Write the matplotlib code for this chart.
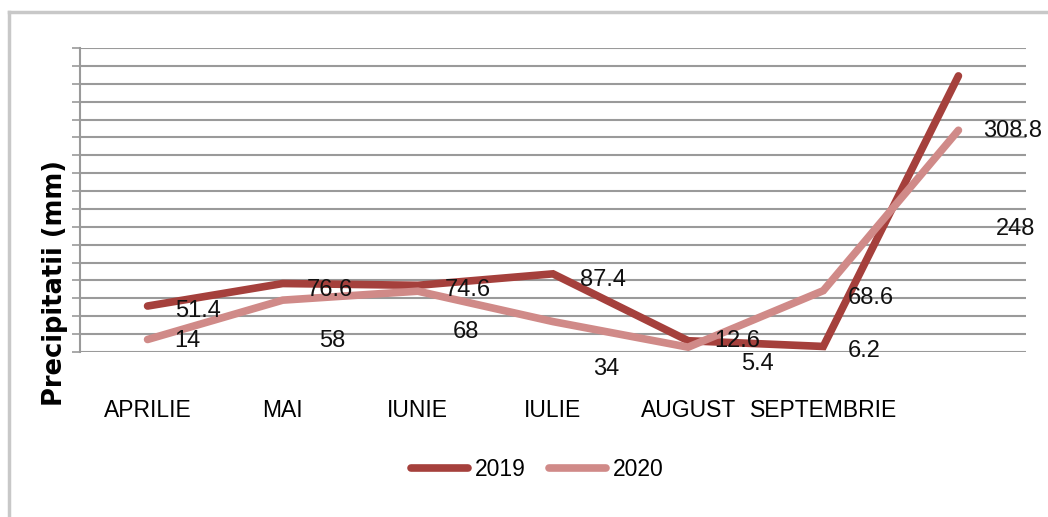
import matplotlib
matplotlib.use("Agg")
import matplotlib.pyplot as plt
from matplotlib.lines import Line2D

# ---- data ----
months = ["APRILIE", "MAI", "IUNIE", "IULIE", "AUGUST", "SEPTEMBRIE", ""]
series_names = ["2019", "2020"]
vals_2019 = [51.4, 76.6, 74.6, 87.4, 12.6, 6.2, 308.8]
vals_2020 = [14, 58, 68, 34, 5.4, 68.6, 248]
y_label = "Precipitatii (mm)"

# ---- style ----
FONT = ["Liberation Sans Narrow", "Liberation Sans", "DejaVu Sans"]
plt.rcParams["font.family"] = FONT
c2019 = "#A5403C"
c2020 = "#D08A88"
# label offsets in pixels (dx right, dy down) – visual placement only
off_2019 = [(50, 5), (47, 6), (50, 5), (50, 6), (49, 0), (41, 5), (54, 55)]
off_2020 = [(40, 2), (50, 41), (48, 41), (53, 47), (69, 17), (48, 7), (57, 99)]

W, H = 1048, 517
fig = plt.figure(figsize=(W / 100, H / 100), dpi=100)
ax = fig.add_axes([80 / W, 1 - 352 / H, (1026 - 80) / W, (352 - 48) / H])

x = list(range(len(months)))
for vals, col, name in [(vals_2019, c2019, "2019"), (vals_2020, c2020, "2020")]:
    ax.plot(x, vals, color=col, lw=5.5, solid_capstyle="round",
            solid_joinstyle="miter", label=name, zorder=3)

px = 0.72
for vals, offs in [(vals_2019, off_2019), (vals_2020, off_2020)]:
    for xi, v, (dx, dy) in zip(x, vals, offs):
        txt = f"{v:g}"
        ax.annotate(txt, (xi, v), xytext=(dx * px, -dy * px), textcoords="offset points",
                    ha="center", va="center", fontsize=17, color="#111111",
                    annotation_clip=False, zorder=4)

ax.set_xlim(-0.5, len(months) - 0.5)
ax.set_ylim(0, 340)
ax.set_yticks(range(0, 341, 20))
ax.set_yticklabels([])
ax.yaxis.grid(True, color="#9a9a9a", lw=1.5)
ax.set_axisbelow(True)
ax.tick_params(axis="y", length=6, color="#9a9a9a", width=1.2)
ax.set_xticks(x)
ax.set_xticklabels(months, fontsize=16.5)
ax.tick_params(axis="x", length=0, pad=34)
for s in ["top", "right", "bottom"]:
    ax.spines[s].set_visible(False)
ax.spines["left"].set_color("#9a9a9a")
ax.spines["left"].set_linewidth(1.5)

fig.text(55 / W, 1 - 283 / H, y_label, rotation=90, ha="center", va="center",
         fontsize=18.5, fontweight="bold", family=["DejaVu Sans"])

handles = [Line2D([0], [0], color=c2019, lw=5.5, solid_capstyle="round"),
           Line2D([0], [0], color=c2020, lw=5.5, solid_capstyle="round")]
fig.legend(handles, series_names, loc="center", bbox_to_anchor=(537 / W, 1 - 470 / H),
           ncol=2, frameon=False, fontsize=16.5, handlelength=2.5, handletextpad=0.3,
           columnspacing=1.0)

# outer frame (top and left edges)
fig.add_artist(Line2D([9 / W, 9 / W], [0, 1 - 12 / H], color="#c8c8c8", lw=2.5,
                      transform=fig.transFigure))
fig.add_artist(Line2D([9 / W, 1], [1 - 12 / H, 1 - 12 / H], color="#c8c8c8", lw=2.5,
                      transform=fig.transFigure))

fig.savefig("out.png", dpi=100, facecolor="white")
